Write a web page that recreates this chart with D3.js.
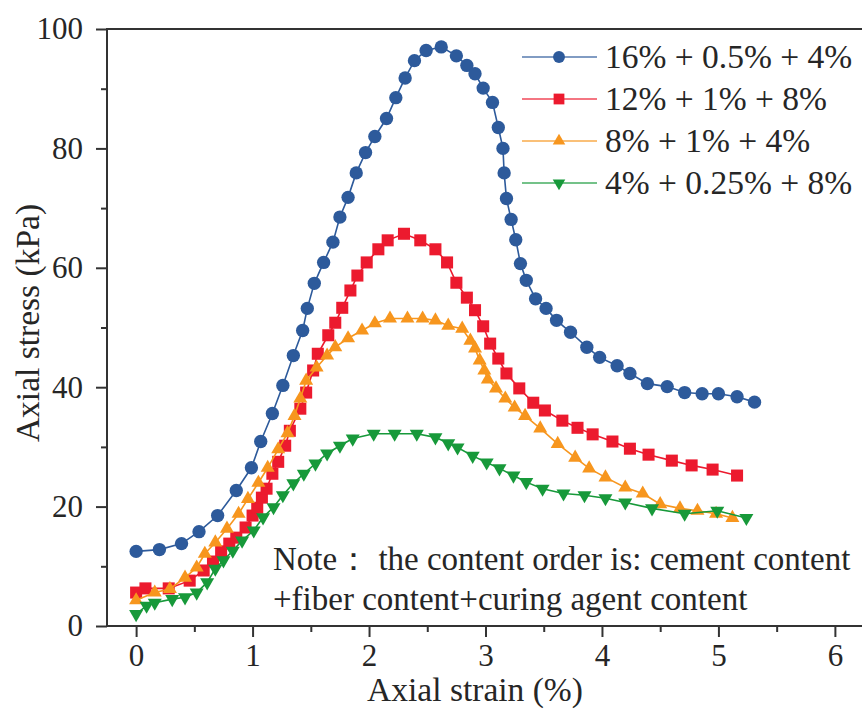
<!DOCTYPE html>
<html>
<head>
<meta charset="utf-8">
<script src="https://cdnjs.cloudflare.com/ajax/libs/d3/7.8.5/d3.min.js"></script>
<style>
  html, body { margin: 0; padding: 0; background: #fff; }
  svg { display: block; }
</style>
</head>
<body>
<div id="chart"></div>
<script>
"use strict";
// series data: [axial strain %, axial stress kPa]
var s16 = [
  [0.0, 12.5], [0.2, 12.8], [0.39, 13.8], [0.54, 15.8], [0.70, 18.5], [0.86, 22.7],
  [0.99, 26.5], [1.07, 30.9], [1.17, 35.6], [1.26, 40.3], [1.35, 45.3], [1.43, 49.5],
  [1.47, 53.2], [1.53, 57.4], [1.61, 60.9], [1.69, 64.3], [1.75, 68.5], [1.82, 71.8],
  [1.89, 75.9], [1.97, 79.3], [2.05, 82.0], [2.15, 85.0], [2.23, 88.5], [2.31, 91.8],
  [2.39, 94.7], [2.49, 96.4], [2.62, 97.0], [2.75, 95.5], [2.84, 93.9], [2.91, 92.5],
  [2.98, 90.1], [3.06, 87.7], [3.11, 83.5], [3.15, 80.0], [3.16, 75.9], [3.18, 71.6],
  [3.22, 68.1], [3.26, 64.7], [3.30, 60.7], [3.35, 57.9], [3.43, 54.8], [3.52, 53.2],
  [3.61, 51.2], [3.73, 49.2], [3.87, 46.7], [3.98, 45.0], [4.13, 43.6], [4.24, 42.3],
  [4.39, 40.6], [4.56, 40.1], [4.71, 39.1], [4.86, 38.9], [5.00, 38.9], [5.16, 38.4],
  [5.31, 37.5]
];
var s12 = [
  [0.0, 5.6], [0.08, 6.3], [0.28, 6.3], [0.46, 7.6], [0.58, 9.3], [0.66, 10.8],
  [0.73, 12.5], [0.80, 13.8], [0.86, 14.8], [0.94, 16.5], [1.00, 18.5], [1.04, 19.8],
  [1.08, 21.5], [1.12, 23.0], [1.17, 25.5], [1.22, 27.5], [1.28, 30.2], [1.32, 32.7],
  [1.41, 36.4], [1.46, 39.1], [1.52, 42.8], [1.56, 45.6], [1.65, 48.7], [1.71, 50.8],
  [1.77, 53.3], [1.84, 56.2], [1.90, 58.7], [1.98, 60.9], [2.08, 63.1], [2.16, 64.6],
  [2.30, 65.7], [2.44, 64.6], [2.57, 63.1], [2.67, 60.9], [2.75, 57.5], [2.84, 55.0],
  [2.91, 52.9], [2.98, 50.2], [3.04, 47.3], [3.11, 44.8], [3.18, 42.3], [3.29, 39.8],
  [3.41, 37.4], [3.51, 36.1], [3.66, 34.4], [3.79, 33.2], [3.92, 32.1], [4.09, 30.9],
  [4.24, 29.7], [4.40, 28.7], [4.60, 27.7], [4.77, 26.9], [4.95, 26.2], [5.16, 25.2]
];
var s8 = [
  [0.0, 4.3], [0.16, 5.6], [0.29, 6.2], [0.42, 8.1], [0.52, 9.8], [0.59, 12.1],
  [0.68, 14.0], [0.78, 16.3], [0.88, 18.8], [0.96, 21.3], [1.05, 24.0], [1.13, 26.5],
  [1.22, 29.6], [1.30, 32.3], [1.36, 35.2], [1.41, 38.1], [1.46, 41.1], [1.55, 43.3],
  [1.64, 45.3], [1.71, 46.7], [1.82, 48.2], [1.94, 49.5], [2.05, 50.7], [2.18, 51.5],
  [2.33, 51.5], [2.46, 51.5], [2.57, 51.2], [2.68, 50.3], [2.80, 49.8], [2.87, 47.8],
  [2.91, 46.5], [2.95, 44.5], [2.99, 42.8], [3.02, 41.3], [3.09, 39.8], [3.17, 38.1],
  [3.25, 36.6], [3.34, 35.2], [3.47, 33.1], [3.62, 30.5], [3.77, 28.2], [3.89, 26.4],
  [4.03, 24.9], [4.20, 23.2], [4.35, 22.2], [4.50, 20.4], [4.67, 19.7], [4.82, 19.3],
  [4.98, 18.8], [5.12, 18.1]
];
var s4 = [
  [0.0, 2.0], [0.09, 3.4], [0.16, 3.9], [0.31, 4.5], [0.42, 4.8], [0.52, 5.6],
  [0.61, 7.3], [0.68, 9.6], [0.75, 11.0], [0.83, 12.6], [0.91, 14.3], [1.01, 16.0],
  [1.09, 18.2], [1.18, 19.9], [1.26, 21.9], [1.35, 23.9], [1.44, 25.5], [1.54, 27.2],
  [1.64, 28.9], [1.75, 30.2], [1.86, 31.4], [2.04, 32.2], [2.22, 32.2], [2.41, 32.2],
  [2.57, 31.6], [2.68, 30.6], [2.76, 29.9], [2.89, 28.5], [3.01, 27.4], [3.12, 26.4],
  [3.24, 25.2], [3.35, 24.1], [3.49, 23.0], [3.67, 22.2], [3.85, 21.9], [4.03, 21.4],
  [4.20, 20.7], [4.43, 19.7], [4.71, 18.8], [4.99, 19.3], [5.24, 18.1]
];

var seriesNames = ["16% + 0.5% + 4%", "12% + 1% + 8%", "8% + 1% + 4%", "4% + 0.25% + 8%"];
var seriesData = [s16, s12, s8, s4];
var xTicks = [0, 1, 2, 3, 4, 5, 6];
var yTicks = [0, 20, 40, 60, 80, 100];
var noteLines = ["Note\uff1a the content order is: cement content", "+fiber content+curing agent content"];

var colors = ["#2d5a9b", "#ec1a2e", "#f7961e", "#17993a"];
var shapes = [d3.symbolCircle, d3.symbolSquare, d3.symbolTriangle, d3.symbolTriangle];
var sizes = [140, 145, 85, 85];
var flips = [false, false, false, true];

var serif = "'Liberation Serif', 'Times New Roman', serif";
var textColor = "#262626";

var w = 862, h = 711;
var mLeft = 107, mRight = 864, mTop = 29, mBottom = 626;

var svg = d3.select("#chart").append("svg").attr("width", w).attr("height", h);

var x = d3.scaleLinear().domain([-0.25, 6.25]).range([mLeft, mRight]);
var y = d3.scaleLinear().domain([0, 100]).range([mBottom, mTop]);

//minor ticks
var xMinor = d3.range(-0.5, 6.6, 1).filter(function(v) { return v > -0.25 && v < 6.25; });
var yMinor = d3.range(10, 100, 20);

var axisColor = "#333";

svg.append("g")
  .attr("transform", "translate(0," + mBottom + ")")
  .call(d3.axisBottom(x).tickValues(xMinor).tickSize(6).tickFormat(""))
  .call(function(g) { g.select(".domain").remove(); g.selectAll("line").attr("stroke", axisColor).attr("stroke-width", 2); });

svg.append("g")
  .attr("transform", "translate(" + mLeft + ",0)")
  .call(d3.axisLeft(y).tickValues(yMinor).tickSize(6).tickFormat(""))
  .call(function(g) { g.select(".domain").remove(); g.selectAll("line").attr("stroke", axisColor).attr("stroke-width", 2); });

var gx = svg.append("g")
  .attr("transform", "translate(0," + mBottom + ")")
  .attr("font-family", serif)
  .call(d3.axisBottom(x).tickValues(xTicks).tickSize(11).tickPadding(7).tickFormat(d3.format("d")));
gx.select(".domain").remove();
gx.selectAll("line").attr("stroke", axisColor).attr("stroke-width", 2);
gx.selectAll("text").attr("font-size", 31).attr("font-family", serif).attr("fill", textColor);

var gy = svg.append("g")
  .attr("transform", "translate(" + mLeft + ",0)")
  .attr("font-family", serif)
  .call(d3.axisLeft(y).tickValues(yTicks).tickSize(11).tickPadding(13).tickFormat(d3.format("d")));
gy.select(".domain").remove();
gy.selectAll("line").attr("stroke", axisColor).attr("stroke-width", 2);
gy.selectAll("text").attr("font-size", 31).attr("font-family", serif).attr("fill", textColor);

//frame
svg.append("rect")
  .attr("x", mLeft).attr("y", mTop)
  .attr("width", mRight - mLeft).attr("height", mBottom - mTop)
  .attr("fill", "none").attr("stroke", axisColor).attr("stroke-width", 2);

var line = d3.line()
  .x(function(d) { return x(d[0]); })
  .y(function(d) { return y(d[1]); });

seriesData.forEach(function(data, i) {
  var g = svg.append("g");
  g.append("path")
    .attr("d", line(data))
    .attr("fill", "none")
    .attr("stroke", colors[i])
    .attr("stroke-width", 1.6);
  g.selectAll("path.mk")
    .data(data)
    .enter()
    .append("path")
    .attr("class", "mk")
    .attr("d", d3.symbol().type(shapes[i]).size(sizes[i]))
    .attr("transform", function(d) {
      return "translate(" + x(d[0]) + "," + y(d[1]) + ")" + (flips[i] ? " rotate(180)" : "");
    })
    .attr("fill", colors[i]);
});

//legend
var lg = svg.append("g");
seriesNames.forEach(function(name, i) {
  var ly = 57 + i * 42;
  lg.append("line")
    .attr("x1", 522).attr("x2", 597)
    .attr("y1", ly).attr("y2", ly)
    .attr("stroke", colors[i]).attr("stroke-width", 2).attr("stroke-opacity", 0.6);
  lg.append("path")
    .attr("d", d3.symbol().type(shapes[i]).size(sizes[i] * 0.8))
    .attr("transform", "translate(559," + ly + ")" + (flips[i] ? " rotate(180)" : ""))
    .attr("fill", colors[i]);
  lg.append("text")
    .attr("x", 605).attr("y", ly + 11)
    .attr("font-family", serif).attr("fill", textColor)
    .attr("font-size", 33.5)
    .text(name);
});

//note
noteLines.forEach(function(t, i) {
  svg.append("text")
    .attr("x", 273).attr("y", 570 + i * 40)
    .attr("font-family", serif).attr("fill", textColor)
    .attr("font-size", 33)
    .text(t);
});

//axis titles
svg.append("text")
  .attr("x", 475).attr("y", 701)
  .attr("text-anchor", "middle")
  .attr("font-family", serif).attr("fill", textColor)
  .attr("font-size", 33.5)
  .text("Axial strain (%)");

svg.append("text")
  .attr("transform", "translate(39,323) rotate(-90)")
  .attr("text-anchor", "middle")
  .attr("font-family", serif).attr("fill", textColor)
  .attr("font-size", 33.5)
  .text("Axial stress (kPa)");
</script>
</body>
</html>
